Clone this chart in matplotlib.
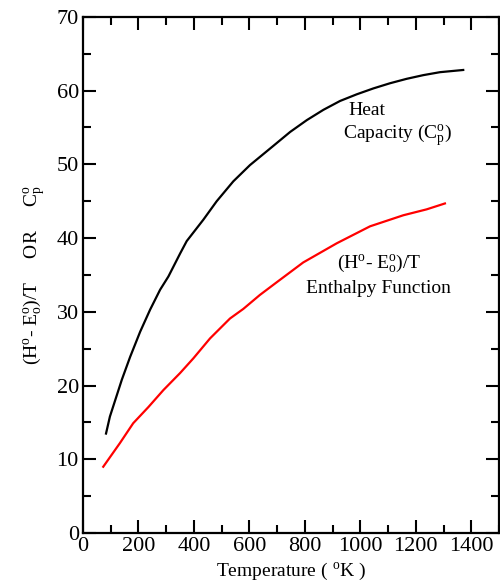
import matplotlib
matplotlib.use("Agg")
import matplotlib.pyplot as plt
from matplotlib.ticker import MultipleLocator

plt.rcParams['font.family'] = ['Liberation Serif', 'DejaVu Serif']
plt.rcParams['mathtext.fontset'] = 'custom'
plt.rcParams['mathtext.rm'] = 'Liberation Serif'
plt.rcParams['mathtext.it'] = 'Liberation Serif:italic'

# Heat capacity Cp (black)
cp_temp = [83, 97, 140, 170, 206, 242, 278, 308, 350, 374, 434, 482, 542,
           602, 686, 747, 807, 867, 927, 987, 1047, 1107, 1167, 1227, 1287,
           1371]
cp_vals = [13.5, 15.8, 20.8, 23.9, 27.3, 30.3, 33.0, 34.8, 37.9, 39.6, 42.5,
           45.0, 47.7, 49.9, 52.5, 54.4, 56.0, 57.4, 58.6, 59.5, 60.3, 61.0,
           61.6, 62.1, 62.5, 62.8]

# Enthalpy function (H - E0)/T (red)
h_temp = [73, 133, 181, 236, 290, 350, 398, 458, 530, 578, 638, 698, 794,
          915, 1035, 1155, 1239, 1305]
h_vals = [9.0, 12.2, 14.9, 17.1, 19.4, 21.7, 23.7, 26.4, 29.1, 30.4, 32.3,
          34.0, 36.7, 39.3, 41.6, 43.1, 43.9, 44.7]

fig = plt.figure(figsize=(5.0, 5.82), dpi=100)
ax = fig.add_axes([0.166, 0.084, 0.832, 0.887])

ax.plot(cp_temp, cp_vals, color='black', lw=1.6)
ax.plot(h_temp, h_vals, color='red', lw=1.6)

ax.set_xlim(0, 1500)
ax.set_ylim(0, 70)
ax.xaxis.set_major_locator(MultipleLocator(200))
ax.xaxis.set_minor_locator(MultipleLocator(100))
ax.yaxis.set_major_locator(MultipleLocator(10))
ax.yaxis.set_minor_locator(MultipleLocator(5))
ax.tick_params(which='both', direction='in', top=True, right=True,
               width=1.5, labelsize=16, colors='black')
ax.tick_params(which='major', length=9.5)
ax.tick_params(which='minor', length=5.5)
ax.tick_params(axis='x', pad=3)
ax.tick_params(axis='y', pad=3)
for s in ax.spines.values():
    s.set_linewidth(1.6)

ax.set_xlabel(r"Temperature ( $^{\mathrm{o}}$K )", fontsize=14, labelpad=3)
ax.set_ylabel(r"(H$^{\mathrm{o}}$- E$^{\mathrm{o}}_{\mathrm{o}}$)/T     OR     "
              r"C$^{\mathrm{o}}_{\mathrm{p}}$", fontsize=14, labelpad=7)

ax.text(956, 57.3, "Heat", fontsize=14, va='center', ha='left')
ax.text(938, 54.0, r"Capacity (C$^{\mathrm{o}}_{\mathrm{p}}$)", fontsize=14,
        va='center', ha='left')
ax.text(1067, 36.6, r"(H$^{\mathrm{o}}$- E$^{\mathrm{o}}_{\mathrm{o}}$)/T",
        fontsize=14, va='center', ha='center')
ax.text(1067, 33.2, "Enthalpy Function", fontsize=14, va='center', ha='center')

fig.savefig("out.png", dpi=100)
